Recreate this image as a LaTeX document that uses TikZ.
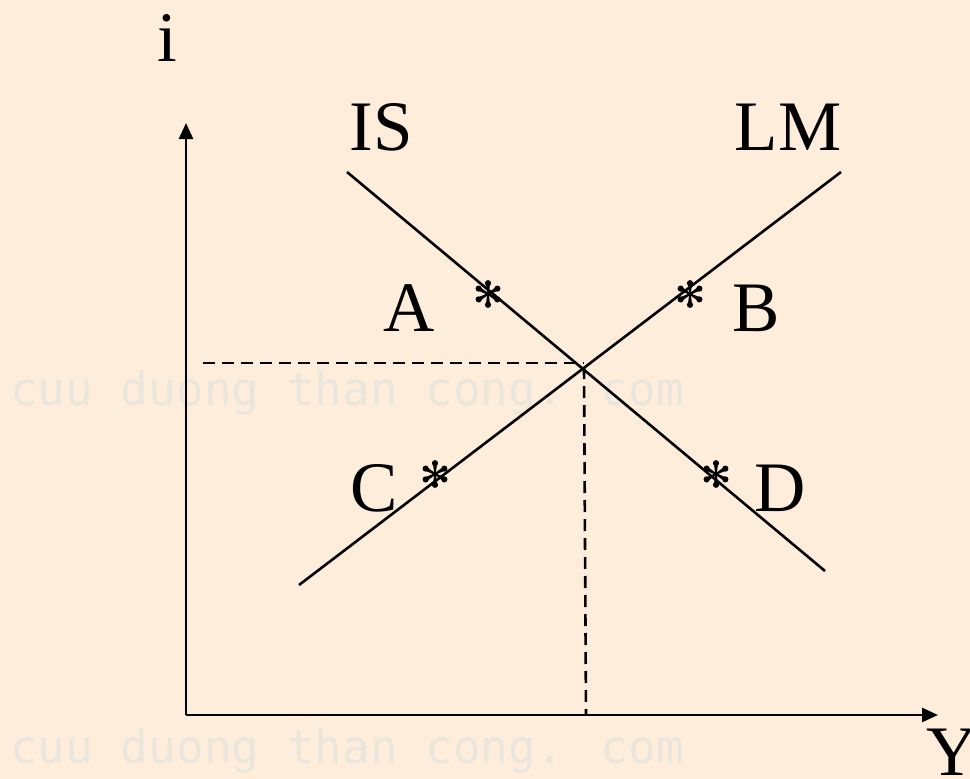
\documentclass[tikz,border=0pt]{standalone}
\usepackage{fontspec}
\setmainfont{Liberation Serif}
\newfontfamily\wmfont{DejaVu Sans Mono}
\usetikzlibrary{arrows.meta,calc}
\definecolor{bgpeach}{RGB}{255,237,220}
\definecolor{wmgray}{RGB}{234,230,220}
\begin{document}
\begin{tikzpicture}[x=1pt,y=-1pt,
  axis/.style={line width=2.7pt,-{Triangle[length=16pt,width=14pt]}},
  curve/.style={line width=2.6pt},
  guide/.style={line width=2.6pt,dash pattern=on 12pt off 7pt},
  lbl/.style={anchor=base,inner sep=0pt,font=\fontsize{71}{80}\selectfont},
  starnode/.style={inner sep=0pt,minimum size=28pt},
  wm/.style={anchor=base west,inner sep=0pt,text=wmgray,font=\wmfont\fontsize{46}{50}\selectfont}]
\useasboundingbox (0,0) rectangle (970,779);
\fill[bgpeach] (0,0) rectangle (970,779);
% watermarks
\node[wm] (wm1) at (10,405) {cuu duong than cong. com};
\node[wm] (wm2) at (10,763) {cuu duong than cong. com};
% axes
\coordinate (O) at (186,715);
\coordinate (ytip) at (186,123);
\coordinate (xtip) at (938,715);
\draw[axis] (O) -- (ytip);
\draw[axis] (O) -- (xtip);
% curves
\coordinate (is1) at (347,172);
\coordinate (is2) at (825,571);
\coordinate (lm1) at (299,585);
\coordinate (lm2) at (841,172);
\coordinate (E) at (584,367);
\coordinate (ey) at (203,363);
\coordinate (ex) at (586,715);
\draw[curve] (is1) -- (is2);
\draw[curve] (lm1) -- (lm2);
\draw[guide] (ey) -- (E |- ey);
\draw[guide] (E) -- (ex);
% labels
\node[lbl] (i) at (167,61) {i};
\node[lbl] (Y) at (952,775) {Y};
\node[lbl] (IS) at (381,150) {IS};
\node[lbl] (LM) at (788,150) {LM};
\node[lbl] (A) at (409,331) {A};
\node[lbl] (B) at (756,331) {B};
\node[lbl] (C) at (374,511) {C};
\node[lbl] (D) at (780,511) {D};
% asterisks
\node[starnode] (sA) at (488,294) {};
\node[starnode] (sB) at (690,294) {};
\node[starnode] (sC) at (435,474) {};
\node[starnode] (sD) at (716,474) {};
\foreach \s in {sA,sB,sC,sD}{
  \fill (\s.center) circle (2.4pt);
  \foreach \a in {90,30,-30,-90,150,210}{
    \fill ($(\s.center)+(\a+90:0.8pt)$) -- ($(\s.center)+(\a:10pt)+(\a+90:2pt)$) -- ($(\s.center)+(\a:10pt)+(\a-90:2pt)$) -- ($(\s.center)+(\a-90:0.8pt)$) -- cycle;
    \fill ($(\s.center)+(\a:10.8pt)$) circle (3.1pt);
  }
}
\end{tikzpicture}
\end{document}
